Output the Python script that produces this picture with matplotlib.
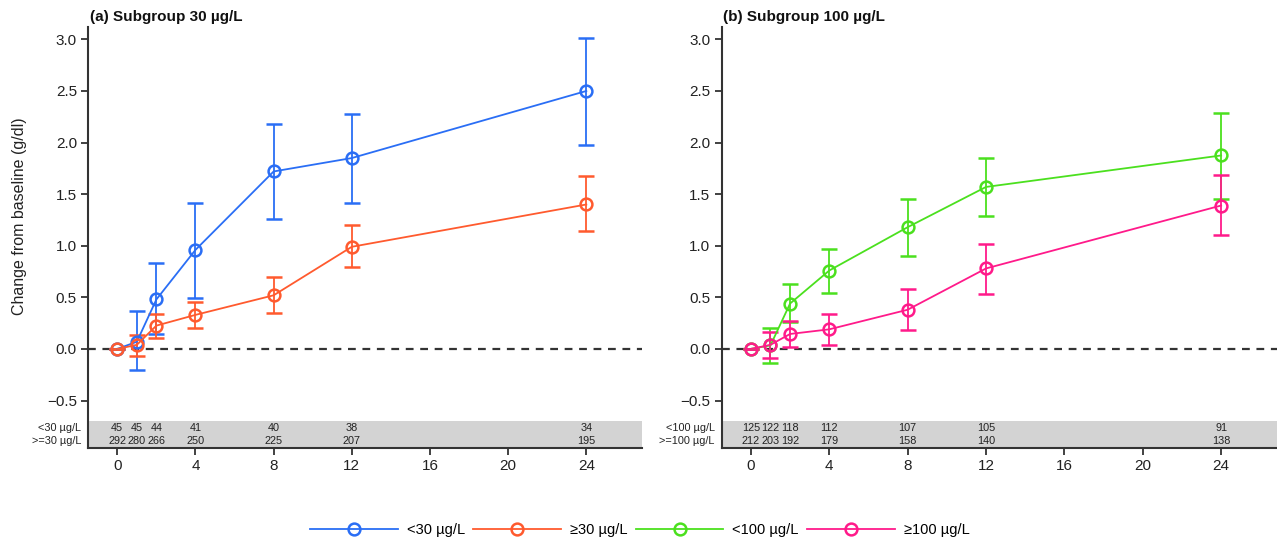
import matplotlib
matplotlib.use("Agg")
import matplotlib.pyplot as plt
import matplotlib.transforms as mtransforms
from matplotlib.lines import Line2D

plt.rcParams['font.family'] = ['Liberation Sans', 'DejaVu Sans']

# ---------------- data ----------------
weeks = [0, 1, 2, 4, 8, 12, 24]
xticks = [0, 4, 8, 12, 16, 20, 24]
yticks = [-0.5, 0.0, 0.5, 1.0, 1.5, 2.0, 2.5, 3.0]

# panel (a)
lt30_mean = [0.0, 0.07, 0.48, 0.96, 1.72, 1.85, 2.50]
lt30_lo = [0.0, -0.20, 0.145, 0.49, 1.255, 1.41, 1.98]
lt30_hi = [0.0, 0.37, 0.835, 1.415, 2.18, 2.28, 3.01]
ge30_mean = [0.0, 0.04, 0.226, 0.33, 0.52, 0.99, 1.40]
ge30_lo = [0.0, -0.07, 0.11, 0.20, 0.35, 0.79, 1.14]
ge30_hi = [0.0, 0.135, 0.34, 0.455, 0.70, 1.20, 1.68]
n_lt30 = ["45", "45", "44", "41", "40", "38", "34"]
n_ge30 = ["292", "280", "266", "250", "225", "207", "195"]

# panel (b)
lt100_mean = [0.0, 0.035, 0.44, 0.76, 1.18, 1.57, 1.875]
lt100_lo = [0.0, -0.135, 0.265, 0.54, 0.90, 1.29, 1.45]
lt100_hi = [0.0, 0.205, 0.625, 0.97, 1.45, 1.85, 2.29]
ge100_mean = [0.0, 0.04, 0.145, 0.19, 0.38, 0.78, 1.39]
ge100_lo = [0.0, -0.09, 0.015, 0.04, 0.18, 0.53, 1.10]
ge100_hi = [0.0, 0.16, 0.275, 0.34, 0.58, 1.02, 1.69]
n_lt100 = ["125", "122", "118", "112", "107", "105", "91"]
n_ge100 = ["212", "203", "192", "179", "158", "140", "138"]

titles = ["(a) Subgroup 30 µg/L", "(b) Subgroup 100 µg/L"]
row_labels_a = ["<30 µg/L", ">=30 µg/L"]
row_labels_b = ["<100 µg/L", ">=100 µg/L"]
legend_labels = ["<30 µg/L", "≥30 µg/L", "<100 µg/L", "≥100 µg/L"]

c_blue = "#2a6ef5"
c_orange = "#ff5a2e"
c_green = "#4be01e"
c_pink = "#ff1a8a"

# ---------------- figure ----------------
W, H = 1277, 542
fig = plt.figure(figsize=(W / 100, H / 100), dpi=100)
ax_a = fig.add_axes([88 / W, 1 - 448 / H, 554 / W, 421 / H])
ax_b = fig.add_axes([721.5 / W, 1 - 448 / H, 555.5 / W, 421 / H])

YMIN, YMAX = -0.96, 3.12
BAND_TOP = -0.70
ROW1, ROW2 = -0.765, -0.89

MS, MEW, LW = 8.5, 1.8, 1.3

def draw_series(ax, mean, lo, hi, color):
    yerr = [[m - l for m, l in zip(mean, lo)], [h - m for m, h in zip(mean, hi)]]
    ax.errorbar(weeks, mean, yerr=yerr, color=color, lw=LW, elinewidth=LW,
                capsize=5.5, capthick=LW, marker='o', markersize=MS,
                markerfacecolor='none', markeredgecolor=color, markeredgewidth=MEW,
                zorder=3)

def style(ax, title, labels, row1, row2):
    ax.set_xlim(-1.5, 26.85)
    ax.set_ylim(YMIN, YMAX)
    ax.axhspan(YMIN, BAND_TOP, color='#d3d3d3', zorder=0, lw=0)
    ax.axhline(0, color='#333333', lw=1.6, dashes=(3.5, 3), zorder=1)
    for s in ['top', 'right']:
        ax.spines[s].set_visible(False)
    for s in ['left', 'bottom']:
        ax.spines[s].set_linewidth(1.5)
        ax.spines[s].set_color('#333333')
    ax.set_xticks(xticks)
    ax.set_yticks(yticks)
    ax.set_yticklabels([f"{v:.1f}".replace('-', '\u2212') for v in yticks])
    ax.tick_params(axis='both', direction='out', length=5, width=1.3,
                   color='#333333', labelsize=11, labelcolor='#222222', pad=3)
    ax.text(0.003, 1.024, title, transform=ax.transAxes, fontsize=11,
            fontweight='bold', ha='left', va='center', color='#111111')
    tr = mtransforms.blended_transform_factory(ax.transAxes, ax.transData)
    ax.text(-0.012, ROW1, labels[0], transform=tr, ha='right', va='center',
            fontsize=7.8, color='#222222')
    ax.text(-0.012, ROW2, labels[1], transform=tr, ha='right', va='center',
            fontsize=7.8, color='#222222')
    for x, a, b in zip(weeks, row1, row2):
        ax.text(x, ROW1, a, ha='center', va='center', fontsize=7.8, color='#222222')
        ax.text(x, ROW2, b, ha='center', va='center', fontsize=7.8, color='#222222')

draw_series(ax_a, lt30_mean, lt30_lo, lt30_hi, c_blue)
draw_series(ax_a, ge30_mean, ge30_lo, ge30_hi, c_orange)
style(ax_a, titles[0], row_labels_a, n_lt30, n_ge30)
ax_a.set_ylabel("Change from baseline (g/dl)", fontsize=11.5, color='#222222')
ax_a.yaxis.set_label_coords(-0.11, 0.55)

draw_series(ax_b, lt100_mean, lt100_lo, lt100_hi, c_green)
draw_series(ax_b, ge100_mean, ge100_lo, ge100_hi, c_pink)
style(ax_b, titles[1], row_labels_b, n_lt100, n_ge100)

handles = [Line2D([], [], color=c, lw=LW, marker='o', markersize=MS,
                  markerfacecolor='none', markeredgecolor=c, markeredgewidth=MEW)
           for c in (c_blue, c_orange, c_green, c_pink)]
fig.legend(handles, legend_labels, loc='center', bbox_to_anchor=(0.501, 1 - 530 / H),
           ncol=4, frameon=False, fontsize=10.5, handlelength=6.0,
           columnspacing=0.6, handletextpad=0.6)

fig.savefig("out.png", dpi=100)
